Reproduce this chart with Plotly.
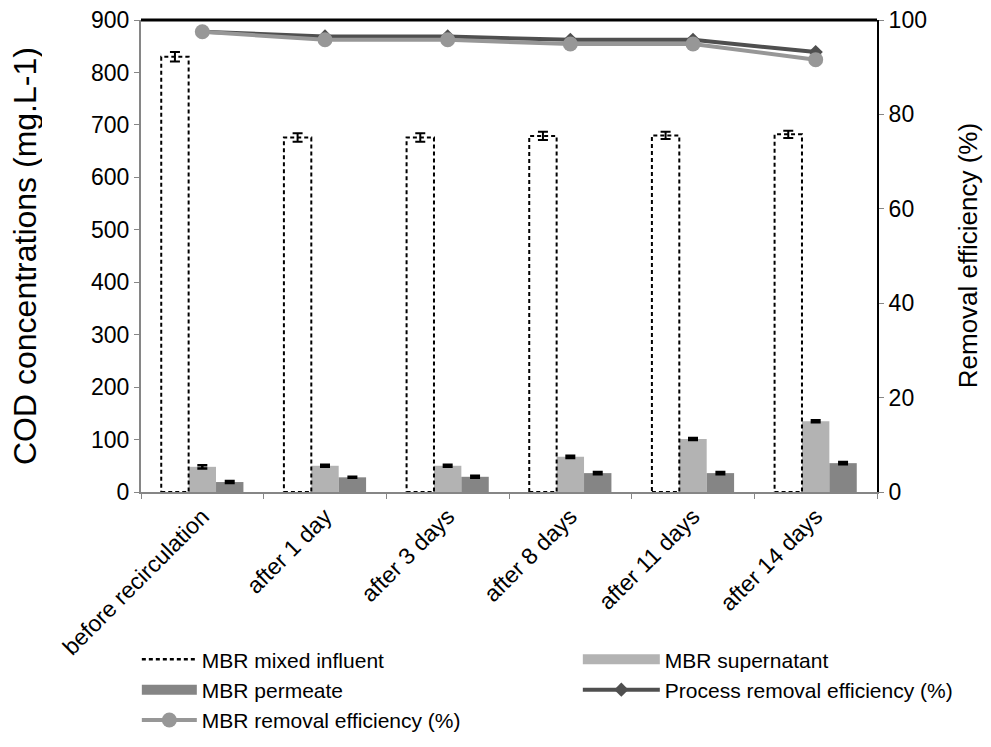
import plotly.graph_objects as go

categories = ["before recirculation", "after 1 day", "after 3 days", "after 8 days", "after 11 days", "after 14 days"]
influent = [830, 676, 676, 679, 680, 682]
influent_err = [9, 8, 8, 8, 7, 7]
supernatant = [48, 50, 50, 67, 101, 135]
supernatant_err = [3, 2, 2, 2, 2, 2]
permeate = [19, 28, 29, 36, 36, 55]
permeate_err = [2, 1, 2, 2, 2, 2]
process_eff = [97.5, 96.5, 96.5, 95.8, 95.8, 93.2]
mbr_eff = [97.5, 95.8, 95.8, 94.9, 94.9, 91.6]
left_ticks = [0, 100, 200, 300, 400, 500, 600, 700, 800, 900]
right_ticks = [0, 20, 40, 60, 80, 100]
left_title = "COD concentrations (mg.L-1)"
right_title = "Removal efficiency (%)"

FONT = "Liberation Sans, Arial, sans-serif"
BARGAP = 0.33
bw = (1 - BARGAP) / 3
C_SUP = "#b3b3b3"
C_PERM = "#858585"
C_PROC = "#4f4f4f"
C_MBR = "#979797"

fig = go.Figure()
# real marks
fig.add_trace(go.Bar(x=categories, y=influent, name="MBR mixed influent", showlegend=False,
                     marker=dict(color="rgba(255,255,255,0)", line=dict(width=0)),
                     error_y=dict(type="data", array=influent_err, color="black", thickness=2, width=5)))
fig.add_trace(go.Bar(x=categories, y=supernatant, name="MBR supernatant", showlegend=False,
                     marker=dict(color=C_SUP, line=dict(width=0)),
                     error_y=dict(type="data", array=supernatant_err, color="black", thickness=2.5, width=5)))
fig.add_trace(go.Bar(x=categories, y=permeate, name="MBR permeate", showlegend=False,
                     marker=dict(color=C_PERM, line=dict(width=0)),
                     error_y=dict(type="data", array=permeate_err, color="black", thickness=2.5, width=5)))
fig.add_trace(go.Scatter(x=categories, y=process_eff, yaxis="y2", name="Process removal efficiency (%)",
                         legend="legend2", legendrank=2, mode="lines+markers",
                         line=dict(color=C_PROC, width=4),
                         marker=dict(symbol="diamond", size=11, color=C_PROC)))
fig.add_trace(go.Scatter(x=categories, y=mbr_eff, yaxis="y2", name="MBR removal efficiency (%)",
                         legend="legend", legendrank=3, mode="lines+markers",
                         line=dict(color=C_MBR, width=4),
                         marker=dict(symbol="circle", size=15, color=C_MBR)))
# legend keys
fig.add_trace(go.Scatter(x=[None], y=[None], mode="lines", name="MBR mixed influent",
                         legend="legend", legendrank=1,
                         line=dict(color="black", width=2.5, dash="4px,3px")))
fig.add_trace(go.Scatter(x=[None], y=[None], mode="lines", name="MBR permeate",
                         legend="legend", legendrank=2, line=dict(color=C_PERM, width=12)))
fig.add_trace(go.Scatter(x=[None], y=[None], mode="lines", name="MBR supernatant",
                         legend="legend2", legendrank=1, line=dict(color=C_SUP, width=12)))

shapes = []
for c, v in zip(categories, influent):
    shapes.append(dict(type="rect", xref="x", yref="y", x0=c, x1=c,
                       x0shift=-(1 - BARGAP) / 2, x1shift=-(1 - BARGAP) / 2 + bw,
                       y0=0, y1=v, line=dict(color="black", width=2, dash="4px,3px"),
                       fillcolor="rgba(0,0,0,0)", layer="above"))
shapes.append(dict(type="line", xref="paper", yref="paper", x0=0, x1=1, y0=1, y1=1,
                   line=dict(color="black", width=3)))
fig.update_layout(shapes=shapes)

annotations = [
    dict(text=left_title, xref="paper", yref="paper", x=-0.1576, y=0.5, textangle=-90,
         showarrow=False, font=dict(size=32), xanchor="center", yanchor="middle",
         height=34),
    dict(text=right_title, xref="paper", yref="paper", x=1.124, y=0.5, textangle=-90,
         showarrow=False, font=dict(size=26), xanchor="center", yanchor="middle"),
]

leg_common = dict(orientation="v", xref="container", yref="container", y=0.155,
                  xanchor="left", yanchor="top", font=dict(size=21),
                  bgcolor="rgba(0,0,0,0)", tracegroupgap=0)

fig.update_layout(
    width=991, height=747,
    margin=dict(l=133, r=122, t=12, b=263, autoexpand=False),
    plot_bgcolor="white", paper_bgcolor="white",
    font=dict(family=FONT, size=22, color="black"),
    barmode="group", bargap=BARGAP, bargroupgap=0,
    annotations=annotations,
    xaxis=dict(type="category", tickangle=-45, tickson="boundaries", ticks="outside",
               ticklen=5, tickcolor="#868686", showline=True, linecolor="#868686", linewidth=2,
               showgrid=False, tickfont=dict(size=23), ticklabeloverflow="allow"),
    yaxis=dict(range=[0, 900], tickvals=left_ticks, showgrid=False, showline=True,
               linecolor="#868686", linewidth=2, ticks="outside", ticklen=5, tickcolor="#868686",
               tickfont=dict(size=23), ticklabeloverflow="allow", zeroline=False),
    yaxis2=dict(range=[0, 100], tickvals=right_ticks, overlaying="y", side="right",
                showgrid=False, showline=True, linecolor="black", linewidth=2, ticks="outside",
                ticklen=5, tickcolor="#868686", zeroline=False, tickfont=dict(size=23),
                ticklabeloverflow="allow"),
    legend=dict(x=0.130, itemwidth=55, **leg_common),
    legend2=dict(x=0.575, itemwidth=77, **leg_common),
)

fig.write_html("out.html")
